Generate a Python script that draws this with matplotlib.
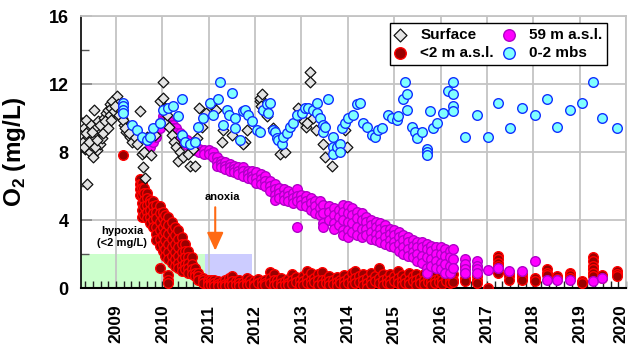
import matplotlib
matplotlib.use("Agg")
import matplotlib.pyplot as plt
import matplotlib.transforms as mtransforms
from matplotlib.ticker import MultipleLocator, FixedLocator

plt.rcParams["font.family"] = ["Liberation Sans", "DejaVu Sans"]
plt.rcParams["font.weight"] = "bold"
plt.rcParams["mathtext.fontset"] = "custom"
plt.rcParams["mathtext.rm"] = "Liberation Sans:bold"
plt.rcParams["mathtext.bf"] = "Liberation Sans:bold"

# surface water (diamonds), decimal year / O2 mg/L
surf_t = [2008.27, 2008.27, 2008.29, 2008.31, 2008.33, 2008.35, 2008.37, 2008.39, 2008.41, 2008.43,
          2008.45, 2008.47, 2008.49, 2008.51, 2008.53, 2008.55, 2008.57, 2008.59, 2008.61, 2008.63,
          2008.65, 2008.67, 2008.70, 2008.72, 2008.74, 2008.76, 2008.78, 2008.80, 2008.82, 2008.84,
          2008.86, 2008.88, 2008.90, 2008.92, 2008.95, 2009.02, 2009.05, 2009.09, 2009.12, 2009.17,
          2009.22, 2009.26, 2009.30, 2009.35, 2009.40, 2009.45, 2009.52, 2009.56, 2009.58, 2009.60,
          2009.63, 2009.67, 2009.75, 2009.85, 2009.95, 2010.01, 2010.01, 2010.05, 2010.06, 2010.10,
          2010.15, 2010.20, 2010.25, 2010.30, 2010.34, 2010.38, 2010.45, 2010.55, 2010.60, 2010.66,
          2010.70, 2010.75, 2010.80, 2010.85, 2010.95, 2011.05, 2011.15, 2011.29, 2011.31, 2011.50,
          2011.78, 2011.83, 2011.74, 2012.10, 2012.11, 2012.13, 2012.15, 2012.17, 2012.26, 2012.39,
          2012.54, 2012.65, 2012.93, 2012.95, 2013.00, 2013.05, 2013.10, 2013.12, 2013.18, 2013.18,
          2013.25, 2013.31, 2013.47, 2013.51, 2013.66, 2013.94, 2013.98,
          2008.30, 2008.36, 2008.42, 2008.48, 2008.54, 2008.60, 2008.66, 2008.71, 2008.77, 2008.83,
          2008.89, 2008.97, 2009.07, 2009.14, 2009.20, 2009.28]
surf_o2 = [9.7, 9.0, 8.6, 9.4, 8.2, 9.9, 6.1, 8.9, 9.3, 8.0,
           9.6, 8.4, 9.0, 7.7, 10.5, 8.8, 9.4, 8.1, 9.8, 9.0,
           8.5, 9.2, 8.8, 9.6, 10.0, 9.3, 10.3, 9.7, 10.5, 10.0,
           10.8, 10.2, 10.6, 11.0, 10.4, 11.3, 10.8, 10.5, 10.0, 9.6,
           9.2, 9.5, 8.9, 8.6, 8.9, 8.5, 10.4, 7.9, 7.1, 8.0,
           6.5, 8.9, 7.8, 9.0, 11.0, 12.1, 11.2, 10.6, 9.7, 10.2,
           9.5, 9.0, 8.6, 8.3, 7.5, 8.0, 7.7, 7.9, 7.2, 8.2,
           7.2, 8.8, 10.6, 9.5, 10.3, 10.8, 10.5, 8.6, 9.3, 9.0,
           8.6, 9.3, 8.5, 11.0, 11.2, 10.7, 11.4, 10.4, 10.1, 9.4,
           7.9, 8.0, 10.6, 10.2, 10.3, 9.8, 9.5, 9.7, 12.7, 12.1,
           10.0, 9.3, 8.5, 7.7, 7.2, 9.3, 8.3,
           8.3, 9.1, 8.6, 9.2, 8.3, 8.7, 9.6, 9.1, 9.8, 9.4,
           9.9, 10.7, 10.2, 9.9, 9.4, 9.1]

# 0-2 m below surface (cyan circles)
mbs_t = [2009.15, 2009.15, 2009.15, 2009.15, 2009.35, 2009.45, 2009.56, 2009.67, 2009.73, 2009.80,
         2009.95, 2010.01, 2010.12, 2010.23, 2010.34, 2010.42, 2010.42, 2010.49, 2010.60, 2010.70,
         2010.77, 2010.88, 2011.03, 2011.09, 2011.20, 2011.24, 2011.31, 2011.39, 2011.44, 2011.50,
         2011.57, 2011.57, 2011.67, 2011.74, 2011.78, 2011.85, 2011.93, 2012.04, 2012.11, 2012.17,
         2012.26, 2012.28, 2012.32, 2012.39, 2012.43, 2012.47, 2012.49, 2012.58, 2012.60, 2012.69,
         2012.75, 2012.82, 2012.90, 2013.01, 2013.08, 2013.14, 2013.25, 2013.34, 2013.34, 2013.40,
         2013.47, 2013.47, 2013.51, 2013.57, 2013.68, 2013.68, 2013.68, 2013.77, 2013.83, 2013.83,
         2013.87, 2013.94, 2014.00, 2014.11, 2014.20, 2014.26, 2014.33, 2014.41, 2014.52, 2014.59,
         2014.65, 2014.74, 2014.87, 2014.95, 2015.06, 2015.08, 2015.19, 2015.23, 2015.28, 2015.28,
         2015.38, 2015.45, 2015.49, 2015.60, 2015.71, 2015.71, 2015.71, 2015.77, 2015.84, 2015.92,
         2016.05, 2016.16, 2016.27, 2016.27, 2016.27, 2016.27, 2016.53, 2016.79, 2017.02, 2017.24,
         2017.50, 2017.76, 2018.04, 2018.30, 2018.51, 2018.79, 2019.05, 2019.29, 2019.48, 2019.81]
mbs_o2 = [10.9, 10.7, 10.5, 10.3, 9.6, 9.3, 8.9, 8.7, 8.9, 9.4,
          9.7, 10.5, 10.6, 10.7, 10.1, 11.1, 9.0, 8.6, 8.5, 8.6,
          9.5, 10.0, 10.9, 10.2, 11.1, 12.1, 9.6, 10.5, 10.2, 11.5,
          10.0, 9.4, 8.7, 10.4, 10.5, 10.2, 9.8, 9.3, 9.2, 10.5,
          10.8, 10.3, 10.9, 9.3, 9.2, 8.8, 8.7, 8.5, 8.9, 9.1,
          9.5, 9.7, 10.2, 10.3, 10.6, 10.6, 10.5, 10.9, 10.3, 10.0,
          9.6, 9.2, 9.5, 11.1, 8.9, 8.3, 7.9, 8.3, 8.5, 8.0,
          9.4, 9.7, 10.0, 10.2, 10.8, 10.9, 9.7, 9.5, 9.0, 8.9,
          9.3, 9.4, 10.2, 10.0, 9.9, 10.1, 11.1, 12.1, 11.4, 10.5,
          9.5, 9.2, 8.8, 9.2, 8.2, 8.0, 7.8, 10.4, 9.4, 9.7,
          10.3, 11.6, 12.1, 11.4, 10.7, 10.4, 8.9, 10.2, 8.9, 10.9,
          9.4, 10.6, 10.2, 11.1, 9.5, 10.5, 10.9, 12.1, 10.0, 9.4]

# 59 m a.s.l. (magenta), one profile list per sampling date
mid_dates = [2009.73, 2009.80, 2009.86, 2009.95, 2010.01, 2010.08, 2010.15, 2010.22, 2010.30, 2010.38,
             2010.45, 2010.53, 2010.62, 2010.70, 2010.80, 2010.90, 2011.00, 2011.09, 2011.18, 2011.27,
             2011.36, 2011.46, 2011.55, 2011.64, 2011.74, 2011.85, 2011.94, 2012.03, 2012.12, 2012.22,
             2012.32, 2012.42, 2012.52, 2012.62, 2012.72, 2012.82, 2012.90, 2013.00, 2013.10, 2013.20,
             2013.30, 2013.40, 2013.47, 2013.60, 2013.70, 2013.80, 2013.90, 2014.00, 2014.10, 2014.20,
             2014.30, 2014.40, 2014.50, 2014.60, 2014.70, 2014.80, 2014.90, 2015.00, 2015.10, 2015.20,
             2015.30, 2015.40, 2015.50, 2015.60, 2015.70, 2015.80, 2015.90, 2016.00, 2016.10, 2016.20,
             2016.27, 2016.53, 2016.79, 2017.02, 2017.24, 2017.48, 2017.76, 2018.04, 2018.30, 2018.51,
             2018.79, 2019.29, 2019.48]
mid_profiles = [[8.7, 8.5, 8.3], [8.9, 8.6], [9.2, 8.9], [9.7, 9.4], [10.1, 9.9],
                [10.0, 9.8], [9.8, 9.6], [9.6, 9.4], [9.4, 9.1], [9.1, 8.9],
                [8.9, 8.6], [8.7, 8.4], [8.5, 8.2], [8.4, 8.1], [8.2, 8.0],
                [8.1, 7.9], [8.1, 7.9], [8.0, 7.7], [7.7, 7.4, 7.2], [7.5, 7.3, 7.1],
                [7.4, 7.2, 7.0], [7.3, 7.1, 6.9], [7.2, 7.0, 6.8], [7.1, 6.9, 6.7], [7.1, 6.9, 6.6],
                [6.9, 6.7, 6.5], [6.9, 6.6, 6.4], [6.8, 6.5, 6.2], [6.7, 6.4, 6.1], [6.6, 6.3, 6.0],
                [6.3, 6.0, 5.7], [6.1, 5.8, 5.5, 5.2], [5.9, 5.6, 5.3], [5.8, 5.5, 5.2], [5.7, 5.4, 5.1],
                [5.6, 5.3, 5.0], [5.8, 5.4, 5.1, 3.6], [5.5, 5.2, 4.9], [5.4, 5.1, 4.8], [5.3, 5.0, 4.6],
                [5.1, 4.8, 4.4], [5.1, 4.7, 4.3], [4.9, 4.4, 3.8, 3.6], [4.8, 4.5, 4.0], [4.7, 4.3, 3.8, 3.5],
                [4.6, 4.2, 3.7], [4.9, 4.5, 4.0, 3.4, 3.1], [4.8, 4.4, 3.9, 3.4, 3.0], [4.7, 4.3, 3.8, 3.3], [4.5, 4.1, 3.6, 3.1],
                [4.4, 4.0, 3.5, 3.0], [4.2, 3.9, 3.5, 3.1], [4.0, 3.7, 3.3, 2.9], [3.9, 3.6, 3.2, 2.8], [3.8, 3.5, 3.1, 2.7],
                [3.7, 3.4, 3.0, 2.6], [3.5, 3.2, 2.8, 2.5], [3.4, 3.1, 2.7, 2.4], [3.3, 3.0, 2.6, 2.2], [3.1, 2.8, 2.4, 2.0],
                [3.0, 2.7, 2.3, 1.9], [2.8, 2.5, 2.1, 1.8], [2.7, 2.4, 2.0, 1.6], [2.7, 2.4, 1.9, 1.5], [2.6, 2.3, 1.8, 1.2, 0.9],
                [2.5, 2.2, 1.7, 1.3], [2.4, 2.0, 1.6, 1.2], [2.4, 2.0, 1.5, 1.1], [2.3, 1.9, 1.4, 0.9], [2.2, 1.8, 1.3, 0.9],
                [2.3, 1.7, 1.2], [1.7, 1.4, 1.1, 0.9], [1.6, 1.3, 1.1, 0.9], [1.05], [1.2],
                [1.0], [1.0], [1.6], [0.5], [0.5],
                [0.5], [0.4], [0.6]]

# <2 m a.s.l. (dark red), one profile list per sampling date
deep_dates = [2009.15, 2009.52, 2009.56, 2009.60, 2009.67, 2009.73, 2009.80, 2009.86, 2009.95, 2010.01,
              2010.06, 2010.12, 2010.20, 2010.27, 2010.34, 2010.42, 2010.49, 2010.55, 2010.64, 2010.70,
              2010.77, 2010.88, 2010.98, 2011.05, 2011.12, 2011.20, 2011.29, 2011.35, 2011.43, 2011.50,
              2011.58, 2011.66, 2011.74, 2011.82, 2011.90, 2011.98, 2012.06, 2012.14, 2012.22, 2012.32,
              2012.40, 2012.48, 2012.56, 2012.64, 2012.72, 2012.80, 2012.88, 2012.96, 2013.04, 2013.12,
              2013.20, 2013.28, 2013.36, 2013.44, 2013.52, 2013.60, 2013.68, 2013.76, 2013.84, 2013.92,
              2014.00, 2014.08, 2014.16, 2014.24, 2014.32, 2014.41, 2014.50, 2014.58, 2014.68, 2014.76,
              2014.84, 2014.92, 2015.00, 2015.08, 2015.16, 2015.24, 2015.32, 2015.40, 2015.48, 2015.56,
              2015.64, 2015.72, 2015.80, 2015.88, 2015.96, 2016.04, 2016.12, 2016.20, 2016.27, 2016.53,
              2016.79, 2017.02, 2017.24, 2017.48, 2017.76, 2018.04, 2018.30, 2018.51, 2018.79, 2019.05,
              2019.29, 2019.48, 2019.81]
deep_profiles = [[7.8], [6.4, 6.1, 5.8, 5.5], [6.2, 5.9, 5.5, 5.0, 4.6, 4.2], [5.9, 5.6, 5.2, 4.8, 4.3],
                 [5.6, 5.3, 4.9, 4.5, 4.1], [5.2, 5.0, 4.6, 4.2, 3.8], [5.1, 4.8, 4.4, 4.0, 3.6],
                 [4.9, 4.5, 4.1, 3.6, 3.2, 2.8], [4.8, 4.4, 3.9, 3.4, 2.9, 2.5, 1.2], [4.5, 4.1, 3.6, 3.1, 2.6, 2.2],
                 [4.3, 3.8, 3.3, 2.8, 2.3, 1.9], [4.2, 3.7, 3.2, 2.6, 2.1, 1.7, 0.75, 0.5, 0.3],
                 [3.9, 3.4, 2.9, 2.4, 1.9, 1.5], [3.6, 3.1, 2.6, 2.1, 1.7, 1.3], [3.4, 2.9, 2.4, 1.9, 1.5, 1.2],
                 [3.0, 2.6, 2.1, 1.7, 1.3, 1.0], [2.6, 2.2, 1.8, 1.4, 1.1], [2.2, 1.8, 1.5, 1.2, 0.9],
                 [1.8, 1.4, 1.1, 0.8], [1.2, 0.9, 0.7], [0.9, 0.7, 0.5], [0.6, 0.45, 0.3], [0.5, 0.35, 0.2],
                 [0.45, 0.3, 0.15], [0.5, 0.3, 0.1], [0.4, 0.25, 0.1], [0.35, 0.2], [0.45, 0.25, 0.1],
                 [0.6, 0.3, 0.15], [0.7, 0.4, 0.2], [0.4, 0.2], [0.5, 0.3, 0.1], [0.35, 0.2],
                 [0.6, 0.3, 0.15], [0.45, 0.25], [0.4, 0.2, 0.1], [0.55, 0.3], [0.4, 0.2],
                 [0.5, 0.3, 0.15], [0.95, 0.6, 0.3], [0.8, 0.5, 0.2], [0.45, 0.25], [0.6, 0.3, 0.1],
                 [0.4, 0.2], [0.55, 0.3, 0.15], [0.85, 0.5, 0.25], [0.65, 0.35], [0.45, 0.2],
                 [0.7, 0.4, 0.2], [1.0, 0.6, 0.3], [0.9, 0.5, 0.25], [0.6, 0.35], [0.8, 0.45, 0.2],
                 [0.95, 0.5, 0.25], [0.55, 0.3], [0.7, 0.4, 0.15], [0.5, 0.25], [0.65, 0.35, 0.1],
                 [0.5, 0.3], [0.75, 0.4, 0.2], [0.6, 0.3], [0.9, 0.5, 0.2], [1.0, 0.6, 0.3],
                 [0.7, 0.35], [0.8, 0.45, 0.2], [0.6, 0.3, 0.0], [0.9, 0.5, 0.25], [0.7, 0.4],
                 [1.2, 0.6, 0.3], [0.8, 0.45, 0.2], [0.6, 0.3], [0.85, 0.5, 0.25], [0.7, 0.4],
                 [1.0, 0.6, 0.3], [0.75, 0.4, 0.2], [0.6, 0.3], [0.9, 0.5, 0.25], [0.7, 0.4],
                 [0.85, 0.45, 0.2], [0.6, 0.3], [0.8, 0.5, 0.25], [0.65, 0.35], [0.75, 0.4, 0.2],
                 [0.9, 0.5, 0.3], [0.6, 0.35], [0.8, 0.45, 0.25], [0.7, 0.4], [0.75, 0.45, 0.3],
                 [0.8, 0.5, 0.35], [1.3, 0.9, 0.6, 0.4], [0.7, 0.5, 0.3], [0.0],
                 [1.9, 1.7, 1.5, 1.3, 1.1, 0.9], [0.9, 0.7, 0.5], [0.85, 0.65, 0.5], [0.6, 0.4],
                 [1.1, 0.9, 0.75], [0.7, 0.55], [0.9, 0.75, 0.6], [0.4, 0.3],
                 [1.8, 1.6, 1.3, 1.1, 0.9, 0.7], [0.75, 0.6], [1.0, 0.85, 0.7]]

years = list(range(2009, 2021))


def flatten(dates, profiles):
    xs, ys = [], []
    for d, prof in zip(dates, profiles):
        for v in prof:
            xs.append(d)
            ys.append(v)
    return xs, ys


deep_t, deep_o2 = flatten(deep_dates, deep_profiles)
mid_t, mid_o2 = flatten(mid_dates, mid_profiles)

fig = plt.figure(figsize=(6.29, 3.54), dpi=100)
ax = fig.add_axes([0.1288, 0.1864, 0.8664, 0.7684])

# hypoxia / anoxia boxes
ax.axvspan(2008.0, 2010.91, ymin=0, ymax=2 / 16, color="#CCFFCC", lw=0, zorder=0)
ax.axvspan(2010.91, 2011.93, ymin=0, ymax=2 / 16, color="#CCCCFF", lw=0, zorder=0)

ax.scatter(deep_t, deep_o2, s=48, marker="o", facecolor="#990000", edgecolor="#FF0000",
           linewidth=1.0, zorder=3, label="<2 m a.s.l.")
ax.scatter(mid_t, mid_o2, s=48, marker="o", facecolor="#FF00FF", edgecolor="#B000C8",
           linewidth=1.0, zorder=4, label="59 m a.s.l.")
ax.scatter(surf_t, surf_o2, s=30, marker="D", facecolor="#E4E4E4", edgecolor="#111111",
           linewidth=0.9, zorder=5, label="Surface")
ax.scatter(mbs_t, mbs_o2, s=48, marker="o", facecolor="#80FFFF", edgecolor="#1030FF",
           linewidth=1.0, zorder=6, label="0-2 mbs")

ax.set_xlim(2008.245, 2020.0)
ax.set_ylim(0, 16)

ax.xaxis.set_major_locator(FixedLocator(years))
ax.xaxis.set_minor_locator(MultipleLocator(1 / 6))
ax.yaxis.set_major_locator(MultipleLocator(4))
ax.yaxis.set_minor_locator(MultipleLocator(2))
ax.set_xticklabels([str(y) for y in years], rotation=90, fontsize=12.5, fontweight="bold")
ax.tick_params(axis="x", which="both", direction="in", length=5, width=1, pad=12, color="#222222",
               top=False)
ax.tick_params(axis="y", which="major", direction="in", length=8, width=1.2, pad=9,
               labelsize=13, color="#888888")
ax.tick_params(axis="y", which="minor", direction="in", length=6, width=1, color="#555555")
for lab in ax.get_yticklabels():
    lab.set_fontweight("bold")
# last year label sits at the right edge, nudge it left a little
last = ax.get_xticklabels()[-1]
last.set_transform(last.get_transform() + mtransforms.ScaledTranslation(-4 / 72, 0, fig.dpi_scale_trans))

ax.grid(True, which="major", color="#C4C4C4", lw=1.3, zorder=1)
ax.set_axisbelow(True)
ax.spines["left"].set_color("black")
ax.spines["left"].set_linewidth(1.2)
ax.spines["bottom"].set_color("black")
ax.spines["bottom"].set_linewidth(1.5)
ax.spines["top"].set_color("#C4C4C4")
ax.spines["top"].set_linewidth(1.3)
ax.spines["right"].set_color("#C4C4C4")
ax.spines["right"].set_linewidth(1.3)

ax.set_ylabel(r"O$_{\mathbf{2}}$ (mg/L)", fontsize=17.5, fontweight="bold")
ax.yaxis.set_label_coords(-0.098, 0.5)

ax.text(2009.13, 3.0, "hypoxia\n(<2 mg/L)", ha="center", va="center", fontsize=8,
        fontweight="bold", linespacing=1.15, zorder=7)
ax.text(2011.29, 5.35, "anoxia", ha="center", va="center", fontsize=8, fontweight="bold", zorder=7)
ax.annotate("", xy=(2011.14, 2.2), xytext=(2011.14, 4.75),
            arrowprops=dict(arrowstyle="-|>,head_length=1.1,head_width=0.5", color="#FF6A13",
                            lw=1.5, mutation_scale=10, shrinkA=0, shrinkB=0), zorder=7)

handles, labels = ax.get_legend_handles_labels()
order = [labels.index(n) for n in ["Surface", "<2 m a.s.l.", "59 m a.s.l.", "0-2 mbs"]]
leg = ax.legend([handles[i] for i in order], [labels[i] for i in order], ncol=2,
                loc="upper right", bbox_to_anchor=(0.965, 0.974), borderaxespad=0,
                prop={"weight": "bold", "size": 11}, fancybox=False,
                edgecolor="black", framealpha=1, borderpad=0.3, handlelength=0.8,
                handletextpad=0.9, columnspacing=0.6, labelspacing=0.3, scatterpoints=1,
                markerscale=1.2)
leg.get_frame().set_linewidth(1.0)
leg.set_zorder(10)

fig.savefig("out.png", dpi=100)
